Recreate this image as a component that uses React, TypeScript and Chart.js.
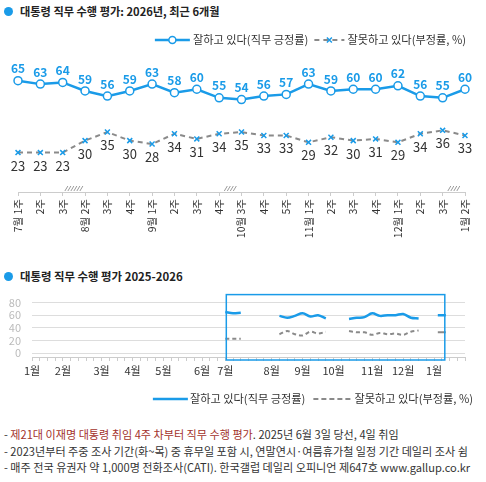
import React, { useEffect, useRef } from "react";
import { Chart, registerables } from "chart.js";
Chart.register(...registerables);

const FONT = '"Noto Sans CJK KR", "Noto Sans", sans-serif';
const BLUE = "#1a9be8";
const GRAY = "#8a8a8a";
const TEXT = "#333333";
const RED = "#a3322c";

// ---- top chart data (recent 6 months) ----
const weekLabels = [
  "7월 1주", "2주", "3주", "8월 2주", "3주", "4주", "9월 1주", "2주", "3주", "4주",
  "10월 3주", "4주", "5주", "11월 1주", "2주", "3주", "4주", "12월 1주", "2주", "3주", "1월 2주",
];
const approve = [65, 63, 64, 59, 56, 59, 63, 58, 60, 55, 54, 56, 57, 63, 59, 60, 60, 62, 56, 55, 60];
const disapprove = [23, 23, 23, 30, 35, 30, 28, 34, 31, 34, 35, 33, 33, 29, 32, 30, 31, 29, 34, 36, 33];
const gapAfter = [2, 9, 19];
const gapSlashes = [6, 4, 4];

// ---- bottom chart data (2025-2026, weekly axis) ----
const surveyWeek = [25, 26, 27, 32, 33, 34, 35, 36, 37, 38, 41, 42, 43, 44, 45, 46, 47, 48, 49, 50, 53];
const monthTicks = [0, 4, 9, 13, 17, 22, 25, 31, 35, 39, 44, 48, 52];
const monthLabels = ["1월", "2월", "3월", "4월", "5월", "6월", "7월", "8월", "9월", "10월", "11월", "12월", "1월"];
const totalWeeks = 56;
const bottomYTicks = [0, 20, 40, 60, 80];

const legendPos = "잘하고 있다(직무 긍정률)";
const legendNeg = "잘못하고 있다(부정률, %)";

Chart.defaults.font.family = FONT;

function drawCross(c: CanvasRenderingContext2D, x: number, y: number, r: number) {
  c.beginPath();
  c.moveTo(x - r, y - r);
  c.lineTo(x + r, y + r);
  c.moveTo(x + r, y - r);
  c.lineTo(x - r, y + r);
  c.stroke();
}

function TopChart() {
  const ref = useRef<HTMLCanvasElement>(null);
  useEffect(() => {
    const canvas = ref.current!;
    const overlay = {
      id: "topOverlay",
      afterDatasetsDraw(chart: any) {
        const c: CanvasRenderingContext2D = chart.ctx;
        const m0 = chart.getDatasetMeta(0);
        const m1 = chart.getDatasetMeta(1);
        c.save();
        c.textAlign = "center";
        c.textBaseline = "middle";
        c.font = `bold 12px ${FONT}`;
        c.fillStyle = BLUE;
        m0.data.forEach((p: any, i: number) => c.fillText(String(approve[i]), p.x, p.y - 12));
        c.font = `13px ${FONT}`;
        c.fillStyle = TEXT;
        m1.data.forEach((p: any, i: number) => c.fillText(String(disapprove[i]), p.x, p.y + 13));

        // gap slashes on axis
        const xs = chart.scales.x;
        const y0 = chart.chartArea.bottom;
        c.strokeStyle = "#9a9a9a";
        c.lineWidth = 1;
        gapAfter.forEach((g, k) => {
          const a = xs.getPixelForValue(g);
          const b = xs.getPixelForValue(g + 1);
          const n = gapSlashes[k];
          const step = 3;
          const mid = (a + b) / 2;
          const start = mid - ((n - 1) * step) / 2;
          for (let j = 0; j < n; j++) {
            const x = start + j * step;
            c.beginPath();
            c.moveTo(x - 1.5, y0 - 1);
            c.lineTo(x + 1.5, y0 - 6);
            c.stroke();
          }
        });

        // legend (right aligned)
        const ly = 15;
        c.font = `11.2px ${FONT}`;
        c.textAlign = "left";
        c.fillStyle = TEXT;
        const w2 = c.measureText(legendNeg).width;
        const w1 = c.measureText(legendPos).width;
        const t2 = 466 - w2;
        const l2e = t2 - 3;
        const l2s = l2e - 30;
        const t1e = l2s - 6;
        const t1 = t1e - w1;
        const l1e = t1 - 3;
        const l1s = l1e - 35;
        c.fillText(legendNeg, t2, ly);
        c.fillText(legendPos, t1, ly);
        c.strokeStyle = BLUE;
        c.lineWidth = 2.5;
        c.beginPath();
        c.moveTo(l1s, ly);
        c.lineTo(l1e, ly);
        c.stroke();
        c.fillStyle = "#fff";
        c.lineWidth = 1.5;
        c.beginPath();
        c.arc((l1s + l1e) / 2, ly, 3.5, 0, Math.PI * 2);
        c.fill();
        c.stroke();
        c.strokeStyle = GRAY;
        c.lineWidth = 2;
        c.setLineDash([5, 4]);
        c.beginPath();
        c.moveTo(l2s, ly);
        c.lineTo(l2e, ly);
        c.stroke();
        c.setLineDash([]);
        c.strokeStyle = BLUE;
        c.lineWidth = 1.5;
        drawCross(c, (l2s + l2e) / 2, ly, 2.5);
        c.restore();
      },
    };
    const chart = new Chart(canvas, {
      type: "line",
      data: {
        labels: weekLabels,
        datasets: [
          {
            data: approve,
            borderColor: BLUE,
            borderWidth: 2.5,
            pointRadius: 4,
            pointBackgroundColor: "#fff",
            pointBorderColor: BLUE,
            pointBorderWidth: 1.5,
            tension: 0,
          },
          {
            data: disapprove,
            borderColor: GRAY,
            borderWidth: 2,
            borderDash: [5, 4],
            pointStyle: "crossRot",
            pointRadius: 3.5,
            pointBorderColor: BLUE,
            pointBorderWidth: 1.5,
            tension: 0,
          },
        ],
      },
      options: {
        animation: false,
        responsive: false,
        events: [],
        layout: { padding: { left: 18, right: 21, top: 30, bottom: 0 } },
        plugins: { legend: { display: false }, tooltip: { enabled: false } },
        scales: {
          x: {
            type: "category",
            offset: false,
            grid: { drawOnChartArea: false, tickLength: 4, color: "#cccccc" },
            border: { color: "#cccccc" },
            ticks: {
              autoSkip: false,
              minRotation: 90,
              maxRotation: 90,
              color: TEXT,
              font: { size: 10.5, family: FONT },
              padding: 3,
            },
            afterFit: (s: any) => {
              s.height = 68;
            },
          },
          y: { display: false, min: 0, max: 80 },
        },
      },
      plugins: [overlay],
    } as any);
    return () => chart.destroy();
  }, []);
  return (
    <canvas
      ref={ref}
      width={486}
      height={235}
      style={{ position: "absolute", left: 0, top: 25, width: 486, height: 235 }}
    />
  );
}

function buildSeries(vals: number[]) {
  const out: { x: number; y: number | null }[] = [];
  surveyWeek.forEach((w, i) => {
    if (i > 0 && w - surveyWeek[i - 1] > 1) out.push({ x: surveyWeek[i - 1] + 1, y: null });
    out.push({ x: w, y: vals[i] });
  });
  return out;
}

function isIsolated(i: number) {
  const n = surveyWeek.length;
  const leftGap = i === 0 || surveyWeek[i] - surveyWeek[i - 1] > 1;
  const rightGap = i === n - 1 || surveyWeek[i + 1] - surveyWeek[i] > 1;
  return leftGap && rightGap;
}

function BottomChart() {
  const ref = useRef<HTMLCanvasElement>(null);
  useEffect(() => {
    const canvas = ref.current!;
    const overlay = {
      id: "bottomOverlay",
      afterDatasetsDraw(chart: any) {
        const c: CanvasRenderingContext2D = chart.ctx;
        const xs = chart.scales.x;
        const ca = chart.chartArea;
        c.save();
        const l = xs.getPixelForValue(surveyWeek[0]) + 1;
        const r = xs.getPixelForValue(surveyWeek[surveyWeek.length - 1]) + 3;
        c.strokeStyle = BLUE;
        c.lineWidth = 1.5;
        c.strokeRect(l, ca.top - 8, r - l, ca.bottom + 3 - (ca.top - 8));

        // legend
        const ly = 114;
        c.font = `11.2px ${FONT}`;
        c.textBaseline = "middle";
        c.textAlign = "left";
        c.fillStyle = TEXT;
        const w2 = c.measureText(legendNeg).width;
        const w1 = c.measureText(legendPos).width;
        const t2 = 473 - w2;
        const l2e = t2 - 2;
        const l2s = l2e - 39;
        const t1e = l2s - 8;
        const t1 = t1e - w1;
        const l1e = t1 - 2;
        const l1s = l1e - 35;
        c.fillText(legendNeg, t2, ly);
        c.fillText(legendPos, t1, ly);
        c.strokeStyle = BLUE;
        c.lineWidth = 2.5;
        c.beginPath();
        c.moveTo(l1s, ly);
        c.lineTo(l1e, ly);
        c.stroke();
        c.strokeStyle = GRAY;
        c.lineWidth = 2;
        c.setLineDash([5, 3]);
        c.beginPath();
        c.moveTo(l2s, ly);
        c.lineTo(l2e, ly);
        c.stroke();
        c.restore();
      },
    };
    const radiusFn = (ctx: any) => {
      const raw = ctx.raw;
      if (!raw || raw.y == null) return 0;
      const i = surveyWeek.indexOf(raw.x);
      return isIsolated(i) ? 4 : 0;
    };
    const chart = new Chart(canvas, {
      type: "line",
      data: {
        datasets: [
          {
            data: buildSeries(approve),
            borderColor: BLUE,
            borderWidth: 2.5,
            pointStyle: "line",
            pointRadius: radiusFn,
            pointBorderColor: BLUE,
            pointBorderWidth: 2.5,
            tension: 0.35,
            spanGaps: false,
          },
          {
            data: buildSeries(disapprove),
            borderColor: GRAY,
            borderWidth: 2,
            borderDash: [4, 3],
            pointStyle: "line",
            pointRadius: radiusFn,
            pointBorderColor: GRAY,
            pointBorderWidth: 2,
            tension: 0.35,
            spanGaps: false,
          },
        ],
      },
      options: {
        animation: false,
        responsive: false,
        events: [],
        layout: { padding: { left: 0, right: 21, top: 14, bottom: 0 } },
        plugins: { legend: { display: false }, tooltip: { enabled: false } },
        scales: {
          x: {
            type: "linear",
            min: 0,
            max: totalWeeks,
            afterBuildTicks: (s: any) => {
              s.ticks = Array.from({ length: totalWeeks + 1 }, (_, i) => ({ value: i }));
            },
            grid: { drawOnChartArea: false, tickLength: 4, color: "#cccccc" },
            border: { color: "#cccccc" },
            ticks: {
              autoSkip: false,
              maxRotation: 0,
              minRotation: 0,
              color: TEXT,
              font: { size: 11, family: FONT },
              padding: 3,
              callback: (v: any) => {
                const k = monthTicks.indexOf(Number(v));
                return k >= 0 ? monthLabels[k] : "";
              },
            },
            afterFit: (s: any) => {
              s.height = 53;
            },
          },
          y: {
            min: -6,
            max: 80,
            afterBuildTicks: (s: any) => {
              s.ticks = bottomYTicks.map((v) => ({ value: v }));
            },
            grid: { color: "#dddddd", drawTicks: false },
            border: { display: false },
            ticks: {
              autoSkip: false,
              color: "#bbbbbb",
              font: { size: 11, family: FONT },
              padding: 11,
            },
            afterFit: (s: any) => {
              s.width = 32;
            },
          },
        },
      },
      plugins: [overlay],
    } as any);
    return () => chart.destroy();
  }, []);
  return (
    <canvas
      ref={ref}
      width={486}
      height={125}
      style={{ position: "absolute", left: 0, top: 285, width: 486, height: 125 }}
    />
  );
}

function Title({ top, text, size }: { top: number; text: string; size: number }) {
  return (
    <div
      style={{
        position: "absolute",
        left: 4,
        top,
        height: 16,
        display: "flex",
        alignItems: "center",
        fontFamily: FONT,
        fontWeight: 700,
        fontSize: size,
        color: "#222",
        whiteSpace: "nowrap",
      }}
    >
      <span
        style={{
          display: "inline-block",
          width: 9,
          height: 9,
          borderRadius: "50%",
          background: BLUE,
          marginRight: 7,
        }}
      />
      {text}
    </div>
  );
}

export default function App() {
  const foot: React.CSSProperties = {
    position: "absolute",
    left: 4,
    fontFamily: FONT,
    fontSize: 11.1,
    color: TEXT,
    whiteSpace: "nowrap",
    lineHeight: "14px",
  };
  return (
    <div
      style={{
        position: "absolute",
        left: 0,
        top: 0,
        width: 486,
        height: 482,
        background: "#fff",
        overflow: "hidden",
        fontFamily: FONT,
      }}
    >
      <Title top={3} size={11.2} text="대통령 직무 수행 평가: 2026년, 최근 6개월" />
      <TopChart />
      <Title top={268} size={11.4} text="대통령 직무 수행 평가 2025-2026" />
      <BottomChart />
      <div style={{ ...foot, top: 427 }}>
        - <span style={{ color: RED }}>제21대 이재명 대통령 취임 4주 차부터 직무 수행 평가</span>. 2025년 6월 3일 당선, 4일 취임
      </div>
      <div style={{ ...foot, top: 444 }}>
        - 2023년부터 주중 조사 기간(화~목) 중 휴무일 포함 시, 연말연시·여름휴가철 일정 기간 데일리 조사 쉼
      </div>
      <div style={{ ...foot, top: 460 }}>
        - 매주 전국 유권자 약 1,000명 전화조사(CATI). 한국갤럽 데일리 오피니언 제647호 www.gallup.co.kr
      </div>
    </div>
  );
}
